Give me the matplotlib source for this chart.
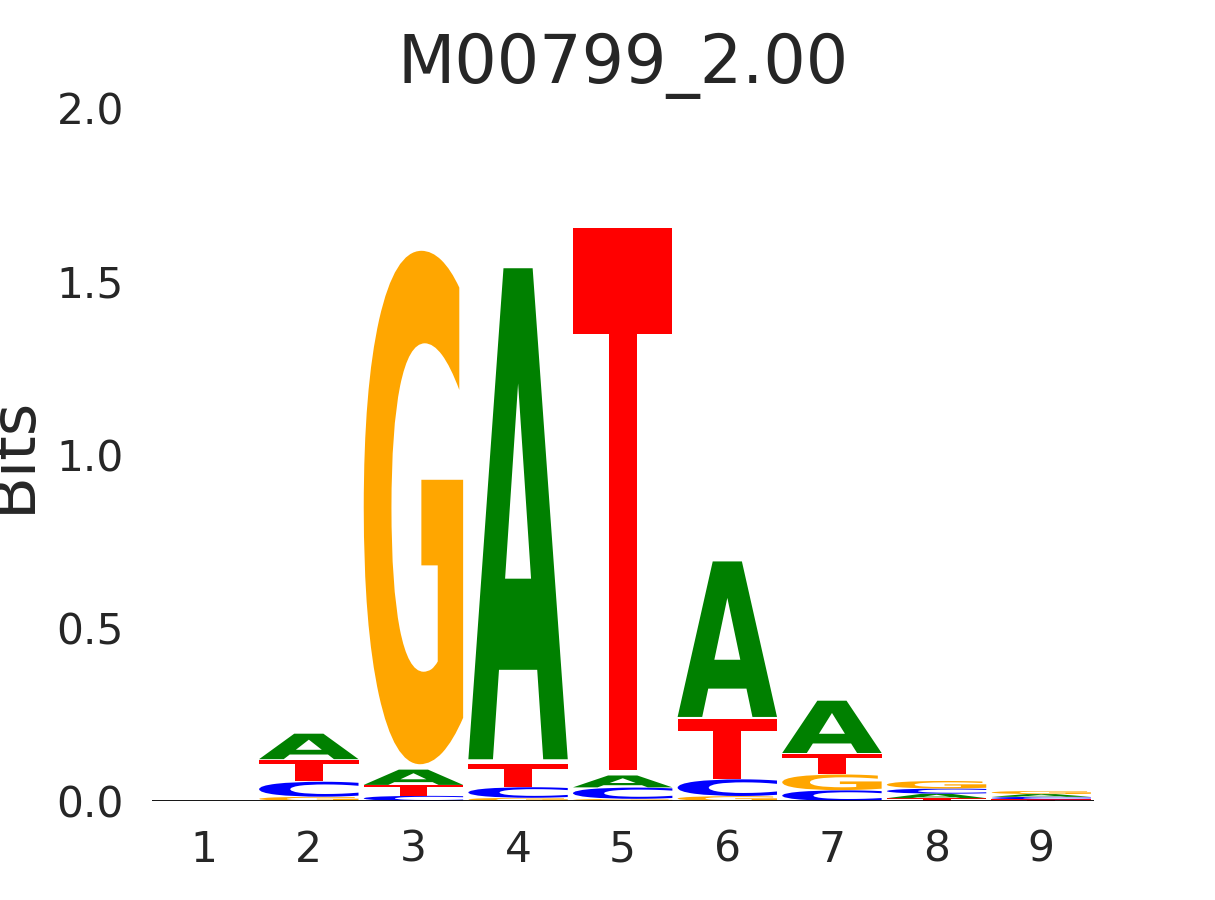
import matplotlib
matplotlib.use("Agg")
from matplotlib import pyplot as plt
from matplotlib.textpath import TextPath
from matplotlib.patches import PathPatch
from matplotlib.font_manager import FontProperties
from matplotlib.transforms import Affine2D

# information content (bits) per letter, positions 1..9
positions = [1, 2, 3, 4, 5, 6, 7, 8, 9]
bits_A = [0.0, 0.075, 0.045, 1.446, 0.035, 0.458, 0.154, 0.013, 0.008]
bits_C = [0.0, 0.044, 0.015, 0.031, 0.033, 0.049, 0.031, 0.015, 0.007]
bits_G = [0.0, 0.012, 1.512, 0.009, 0.006, 0.014, 0.046, 0.022, 0.009]
bits_T = [0.0, 0.064, 0.031, 0.066, 1.595, 0.175, 0.060, 0.008, 0.005]

colors = {"A": (0, 0.5, 0), "C": (0, 0, 1), "G": (1, 0.65, 0), "T": (1, 0, 0)}
yticks = [0.0, 0.5, 1.0, 1.5, 2.0]
title = "M00799_2.00"

text_color = "#262626"
font = FontProperties(family="DejaVu Sans", weight="bold")
width = 0.95
vpad = 0.02


def draw_letter(ax, ch, x, floor, ceil):
    h = ceil - floor
    if h <= 0:
        return
    path = TextPath((0, 0), ch, size=1, prop=font)
    ext = path.get_extents()
    pad = vpad * h / 2
    tr = (Affine2D()
          .translate(-ext.x0, -ext.y0)
          .scale(width / ext.width, (h - 2 * pad) / ext.height)
          .translate(x - width / 2, floor + pad))
    ax.add_patch(PathPatch(tr.transform_path(path), facecolor=colors[ch],
                           edgecolor="none", linewidth=0))


fig = plt.figure(figsize=(12.15, 9), dpi=100)
ax = fig.add_subplot(111)

columns = {"A": bits_A, "C": bits_C, "G": bits_G, "T": bits_T}
for i, pos in enumerate(positions):
    # smallest letter at the bottom, biggest on top
    stack = sorted(((columns[ch][i], ch) for ch in "ACGT"))
    floor = 0.0
    for val, ch in stack:
        draw_letter(ax, ch, pos, floor, floor + val)
        floor += val

ax.axhline(0, color="black", linewidth=1.3)
ax.set_xlim(0.5, 9.5)
ax.set_ylim(0, 2)
ax.set_xticks(positions)
ax.set_yticks(yticks)
ax.set_yticklabels([f"{v:.1f}" for v in yticks])
ax.tick_params(length=0, pad=20, labelsize=30.5, colors=text_color)
for s in ax.spines.values():
    s.set_visible(False)

ax.set_ylabel("Bits", fontsize=45, color=text_color, labelpad=10)
ax.set_title(title, fontsize=48, color=text_color, pad=18)

fig.savefig("out.png", dpi=100)
